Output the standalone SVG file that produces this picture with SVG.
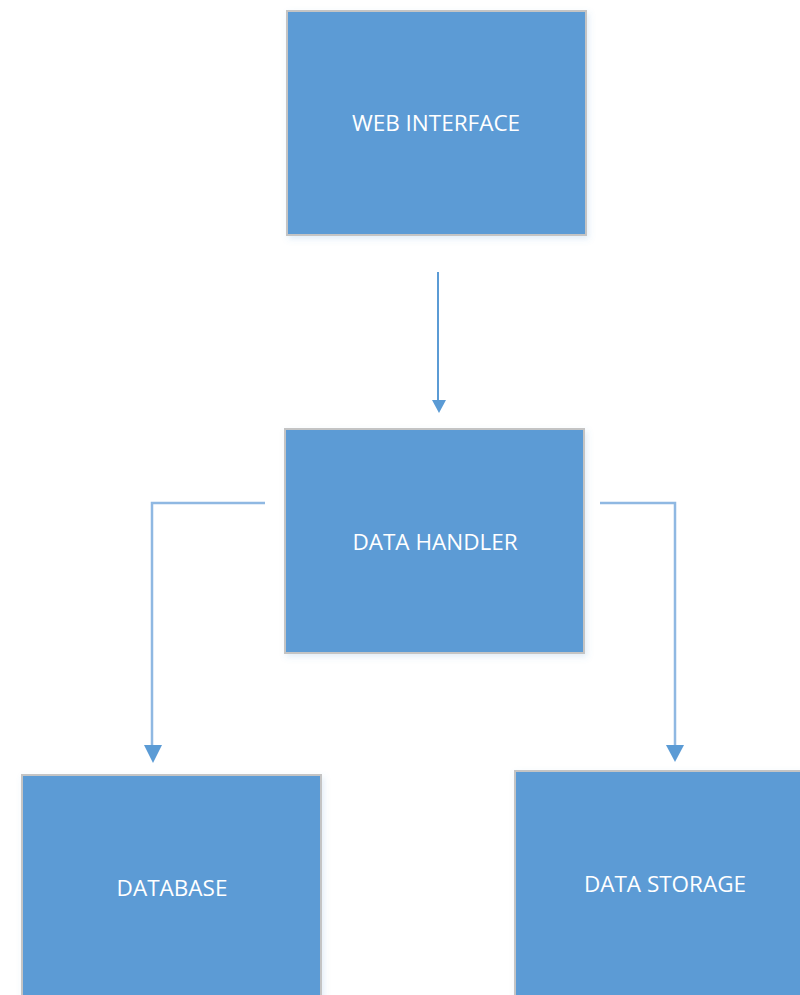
<svg xmlns="http://www.w3.org/2000/svg" width="800" height="995" viewBox="0 0 800 995">
  <style>
    .box { fill: #5b9bd5; stroke: #c4c4c4; stroke-width: 2; filter: url(#soft); }
    .label { fill: #ffffff; font-family: "Open Sans", "Liberation Sans", sans-serif; font-size: 22.5px; text-anchor: middle; dominant-baseline: central; }
    .link { fill: none; stroke: #8fb8e2; stroke-width: 2.5; }
    .link-main { fill: none; stroke: #5b9bd5; stroke-width: 2; }
    .head { fill: #5b9bd5; }
  </style>
  <defs>
    <filter id="soft" x="-5%" y="-5%" width="115%" height="115%">
      <feGaussianBlur in="SourceAlpha" stdDeviation="3"/>
      <feOffset dx="2" dy="3" result="b"/>
      <feFlood flood-color="#5b9bd5" flood-opacity="0.18"/>
      <feComposite in2="b" operator="in"/>
      <feMerge><feMergeNode/><feMergeNode in="SourceGraphic"/></feMerge>
    </filter>
  </defs>

  <g id="connectors">
    <line class="link-main" x1="438" y1="272" x2="438" y2="400"/>
    <path class="head" d="M432,400 L446,400 L439,413 Z"/>
    <path class="link" d="M265,503 L152,503 L152,746"/>
    <path class="head" d="M144,745 L162,745 L153,763 Z"/>
    <path class="link" d="M600,503 L675,503 L675,746"/>
    <path class="head" d="M666,745 L684,745 L675,762 Z"/>
  </g>

  <g id="web-interface">
    <rect class="box" x="287" y="11" width="299" height="224"/>
    <text class="label" x="436" y="122">WEB INTERFACE</text>
  </g>

  <g id="data-handler">
    <rect class="box" x="285" y="429" width="299" height="224"/>
    <text class="label" x="435" y="541">DATA HANDLER</text>
  </g>

  <g id="database">
    <rect class="box" x="22" y="775" width="299" height="230"/>
    <text class="label" x="172" y="887">DATABASE</text>
  </g>

  <g id="data-storage">
    <rect class="box" x="515" y="771" width="299" height="234"/>
    <text class="label" x="665" y="883">DATA STORAGE</text>
  </g>
</svg>
